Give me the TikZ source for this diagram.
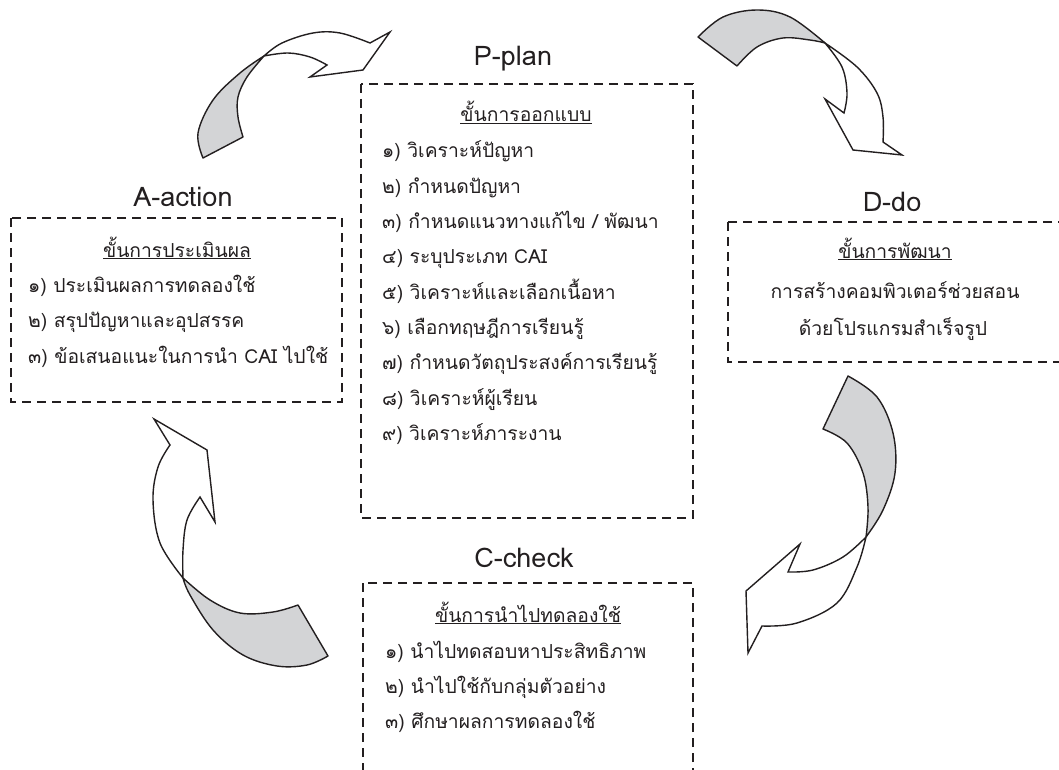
\documentclass[tikz,border=0pt]{standalone}
\usepackage{fontspec}
\setmainfont[Script=Thai]{Loma}
\definecolor{arrowgrey}{RGB}{211,212,214}
\definecolor{ink}{RGB}{35,31,32}
\tikzset{
  dashbox/.style={draw=ink, line width=1.7pt, dash pattern=on 9pt off 6pt},
  title/.style={font=\fontsize{27}{30}\selectfont, text=ink, anchor=base, inner sep=0pt},
  head/.style={font=\fontsize{19.3}{24}\selectfont, text=ink, anchor=base, inner sep=0pt},
  item/.style={font=\fontsize{19.3}{24}\selectfont, text=ink, anchor=base west, inner sep=0pt},
  centred/.style={font=\fontsize{19.3}{24}\selectfont, text=ink, anchor=base, inner sep=0pt},
  greypart/.style={fill=arrowgrey, draw=ink, line width=1.4pt, line join=round},
  whitepart/.style={fill=white, draw=ink, line width=1.4pt, line join=miter},
}
\begin{document}
\begin{tikzpicture}[x=1pt,y=-1pt]
\useasboundingbox (0,0) rectangle (1059,770);
\clip (0,0) rectangle (1059,770);

% ---------- boxes ----------
\draw[dashbox] (361,84) rectangle (693,518);
\draw[dashbox] (11,218) rectangle (342,402);
\draw[dashbox] (728,222) rectangle (1080,362);
\draw[dashbox] (363,583) rectangle (693,800);

% ---------- P-plan ----------
\node[title] (ptitle) at (513,66) {P-plan};
\node[head] (phead) at (526,122) {\underline{ขั้นการออกแบบ}};
\node[item] (p1) at (382,158) {๑) วิเคราะห์ปัญหา};
\node[item] (p2) at (382,193.3) {๒) กำหนดปัญหา};
\node[item] (p3) at (382,228.6) {๓) กำหนดแนวทางแก้ไข / พัฒนา};
\node[item] (p4) at (382,263.9) {๔) ระบุประเภท CAI};
\node[item] (p5) at (382,299.2) {๕) วิเคราะห์และเลือกเนื้อหา};
\node[item] (p6) at (382,334.5) {๖) เลือกทฤษฎีการเรียนรู้};
\node[item] (p7) at (382,369.8) {๗) กำหนดวัตถุประสงค์การเรียนรู้};
\node[item] (p8) at (382,405.1) {๘) วิเคราะห์ผู้เรียน};
\node[item] (p9) at (382,440.4) {๙) วิเคราะห์ภาระงาน};

% ---------- A-action ----------
\node[title] (atitle) at (183,206) {A-action};
\node[head] (ahead) at (177,257) {\underline{ขั้นการประเมินผล}};
\node[item] (a1) at (28,292) {๑) ประเมินผลการทดลองใช้};
\node[item] (a2) at (28,327.5) {๒) สรุปปัญหาและอุปสรรค};
\node[item] (a3) at (28,363) {๓) ข้อเสนอแนะในการนำ CAI ไปใช้};

% ---------- D-do ----------
\node[title] (dtitle) at (892,211) {D-do};
\node[head] (dhead) at (895,258) {\underline{ขั้นการพัฒนา}};
\node[centred] (d1) at (895,298) {การสร้างคอมพิวเตอร์ช่วยสอน};
\node[centred] (d2) at (893,335) {ด้วยโปรแกรมสำเร็จรูป};

% ---------- C-check ----------
\node[title] (ctitle) at (524,567) {C-check};
\node[head] (chead) at (528,622) {\underline{ขั้นการนำไปทดลองใช้}};
\node[item] (c1) at (385,658) {๑) นำไปทดสอบหาประสิทธิภาพ};
\node[item] (c2) at (385,693) {๒) นำไปใช้กับกลุ่มตัวอย่าง};
\node[item] (c3) at (385,728) {๓) ศึกษาผลการทดลองใช้};

% ---------- arrow A -> P (top left) ----------
\draw[greypart] (203,158) -- plot[smooth,tension=0.6] coordinates {(203,158)(198,133)(213,100)(240,73)(264,56)}
  -- plot[smooth,tension=0.6] coordinates {(264,56)(247,77)(238,97)(238,117)(243,137)} -- cycle;
\draw[whitepart] (264,56) -- plot[smooth,tension=0.6] coordinates {(264,56)(282,43)(313,33)(340,33)(370,43)}
  -- (390,32) -- (363,70) -- (310,77) -- (327,65)
  -- plot[smooth,tension=0.6] coordinates {(327,65)(310,57)(288,53)(264,56)} -- cycle;

% ---------- arrow P -> D (top right) ----------
\draw[greypart] (698,37) -- plot[smooth,tension=0.6] coordinates {(698,37)(723,17)(757,10)(790,17)(825,43)}
  -- plot[smooth,tension=0.6] coordinates {(825,43)(810,40)(783,38)(757,47)(737,66)} -- cycle;
\draw[whitepart] (825,43) -- plot[smooth,tension=0.6] coordinates {(825,43)(857,67)(877,93)(883,117)(883,142)}
  -- (902,155) -- (853,150) -- (825,99) -- (844,113)
  -- plot[smooth,tension=0.6] coordinates {(844,113)(847,93)(842,67)(825,43)} -- cycle;

% ---------- arrow D -> C (right) ----------
\draw[greypart] (848,376) -- plot[smooth,tension=0.6] coordinates {(848,376)(877,397)(893,433)(895,473)(883,510)(866,537)}
  -- plot[smooth,tension=0.6] coordinates {(866,537)(868,507)(863,473)(847,443)(823,429)} -- cycle;
\draw[whitepart] (866,537) -- plot[smooth,tension=0.6] coordinates {(866,537)(857,567)(837,603)(797,623)(762,626)}
  -- (748,653) -- (746,591) -- (800,544) -- (788,572)
  -- plot[smooth,tension=0.6] coordinates {(788,572)(813,570)(843,557)(866,537)} -- cycle;

% ---------- arrow C -> A (left) ----------
\draw[greypart] (183,578) -- plot[smooth,tension=0.6] coordinates {(183,578)(210,600)(240,613)(273,612)(298,605)}
  -- (328,656)
  -- plot[smooth,tension=0.6] coordinates {(328,656)(307,665)(277,666)(243,655)(213,630)(190,595)(183,578)} -- cycle;
\draw[whitepart] (183,578) -- plot[smooth,tension=0.6] coordinates {(183,578)(160,543)(153,500)(158,467)(170,445)}
  -- (154,419) -- (207,450) -- (215,522) -- (200,497)
  -- plot[smooth,tension=0.6] coordinates {(200,497)(187,520)(183,550)(183,578)} -- cycle;
\end{tikzpicture}
\end{document}
